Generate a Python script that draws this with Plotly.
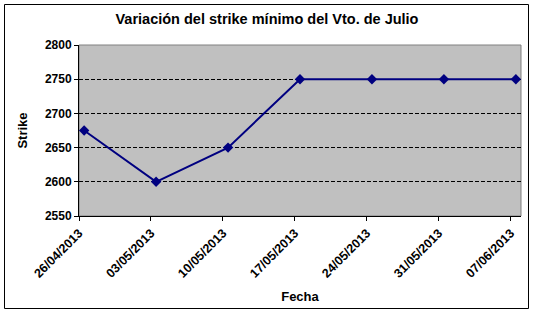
import plotly.graph_objects as go
import pandas as pd

fechas = ["2013-04-26", "2013-05-03", "2013-05-10", "2013-05-17",
          "2013-05-24", "2013-05-31", "2013-06-07"]
etiquetas = ["26/04/2013", "03/05/2013", "10/05/2013", "17/05/2013",
             "24/05/2013", "31/05/2013", "07/06/2013"]
strike = [2675, 2600, 2650, 2750, 2750, 2750, 2750]

W, H = 539, 313
L, R, T, B = 79, 18, 45, 97
pw, ph = W - L - R, H - T - B

# Excel date axis: points centred within their day
x_pts = pd.to_datetime(fechas) + pd.Timedelta(hours=12)

FONT = "Liberation Sans, Arial, sans-serif"

fig = go.Figure()
fig.add_trace(go.Scatter(
    x=x_pts, y=strike, mode="lines+markers",
    line=dict(color="#000080", width=2),
    marker=dict(symbol="diamond", size=8, color="#000080"),
    showlegend=False, cliponaxis=False,
))

def px_x(p):
    return (p - L) / pw

def px_y(p):
    return (H - B - p) / ph

fig.update_layout(
    width=W, height=H,
    margin=dict(l=L, r=R, t=T, b=B),
    paper_bgcolor="white",
    plot_bgcolor="#C0C0C0",
    font=dict(family=FONT, color="black"),
    title=dict(text="<b>Variación del strike mínimo del Vto. de Julio</b>",
               x=px_x(267), xref="paper", xanchor="center",
               y=1 - 19 / H, yanchor="middle", font=dict(size=14.5)),
    xaxis=dict(
        type="date",
        range=[pd.Timestamp(fechas[0]), pd.Timestamp(fechas[-1]) + pd.Timedelta(days=1)],
        tickvals=pd.to_datetime(fechas), ticktext=["<b>%s</b>" % t for t in etiquetas],
        tickangle=-45, tickfont=dict(size=12.5),
        ticks="outside", ticklen=4, tickcolor="black",
        showline=True, linecolor="black", linewidth=1,
        showgrid=False, zeroline=False,
        title=dict(text="<b>Fecha</b>", font=dict(size=13), standoff=12),
    ),
    yaxis=dict(
        range=[2550, 2800], dtick=50,
        tickfont=dict(size=12), tickprefix="<b>", ticksuffix="</b>",
        ticks="outside", ticklen=4, tickcolor="black",
        showline=True, linecolor="black", linewidth=1,
        showgrid=True, gridcolor="black", gridwidth=1, griddash="4px,2px",
        zeroline=False,
        title=dict(text="<b>Strike</b>", font=dict(size=13), standoff=14),
    ),
    shapes=[
        dict(type="rect", xref="paper", yref="paper", x0=0, x1=1, y0=0, y1=1,
             line=dict(color="#808080", width=1), layer="below"),
        dict(type="rect", xref="paper", yref="paper",
             x0=px_x(4.5), x1=px_x(528.5), y0=px_y(4.5), y1=px_y(308.5),
             line=dict(color="black", width=1)),
    ],
)

fig.write_html("out.html")
